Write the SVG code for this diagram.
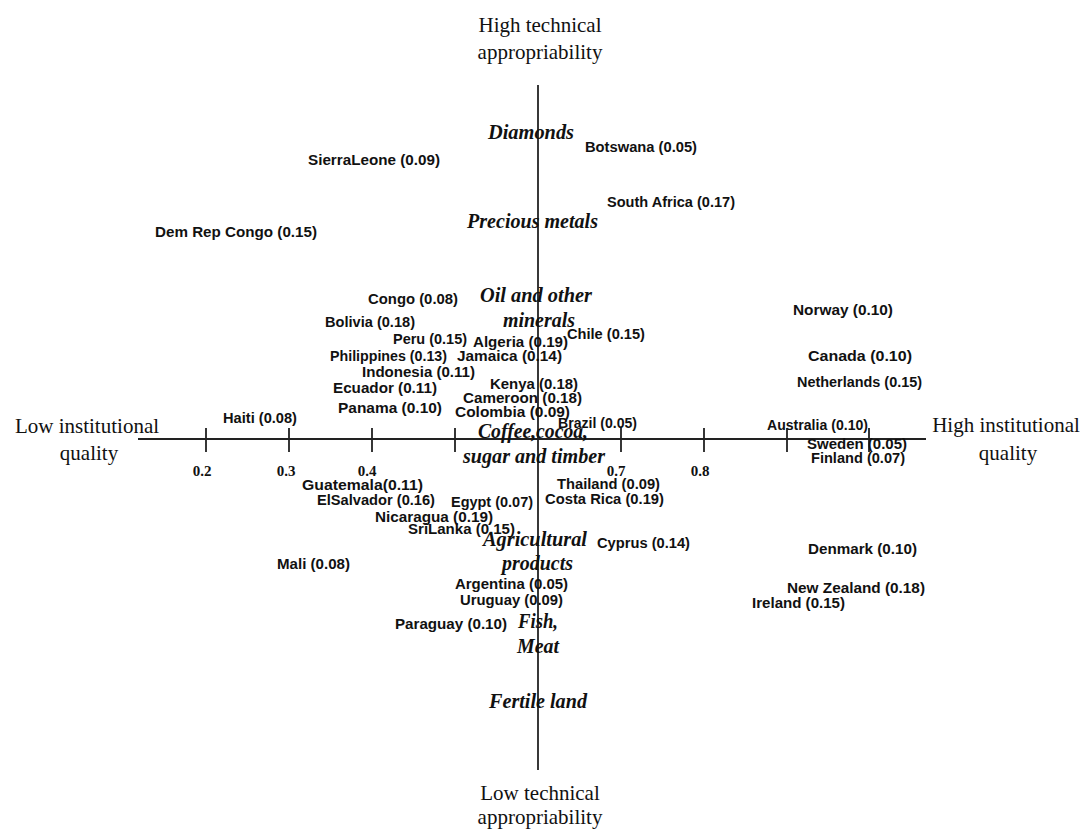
<svg xmlns="http://www.w3.org/2000/svg" width="1086" height="831" viewBox="0 0 1086 831">
<style>
.ax{font-family:"Liberation Serif","Times New Roman",serif;font-size:21px;fill:#111;text-anchor:middle}
.tk{font-family:"Liberation Serif","Times New Roman",serif;font-size:15px;font-weight:bold;fill:#111;text-anchor:middle}
.cm{font-family:"Liberation Serif","Times New Roman",serif;font-size:20px;font-weight:bold;font-style:italic;fill:#111}
.c{font-family:"Liberation Sans",Arial,sans-serif;font-size:14px;font-weight:bold;fill:#111}
.ln{stroke:#222;stroke-width:1.8;fill:none}
</style>
<rect width="1086" height="831" fill="#fff"/>
<g id="axes" class="ln">
<line x1="538" y1="85" x2="538" y2="770"/>
<line x1="138" y1="439" x2="926" y2="439"/>
<path d="M206 428V452M289 428V452M372 428V452M455 428V452M621 428V452M704 428V452M787 428V452M869 428V452"/>
</g>
<g id="axis-labels">
<text class="ax" x="540" y="32">High technical</text>
<text class="ax" x="540" y="59">appropriability</text>
<text class="ax" x="540" y="800">Low technical</text>
<text class="ax" x="540" y="824">appropriability</text>
<text class="ax" x="87" y="433">Low institutional</text>
<text class="ax" x="89" y="460">quality</text>
<text class="ax" x="1006" y="432">High institutional</text>
<text class="ax" x="1008" y="460">quality</text>
</g>
<g id="ticks">
<text class="tk" x="202" y="476">0.2</text>
<text class="tk" x="286" y="476">0.3</text>
<text class="tk" x="367" y="476">0.4</text>
<text class="tk" x="616" y="476">0.7</text>
<text class="tk" x="700" y="476">0.8</text>
</g>
<g id="commodities">
<text class="cm" x="488" y="139" textLength="86" lengthAdjust="spacingAndGlyphs">Diamonds</text>
<text class="cm" x="467" y="228" textLength="131" lengthAdjust="spacingAndGlyphs">Precious metals</text>
<text class="cm" x="480" y="302" textLength="112" lengthAdjust="spacingAndGlyphs">Oil and other</text>
<text class="cm" x="503" y="327" textLength="72" lengthAdjust="spacingAndGlyphs">minerals</text>
<text class="cm" x="478" y="438" textLength="110" lengthAdjust="spacingAndGlyphs">Coffee,cocoa,</text>
<text class="cm" x="463" y="463" textLength="142" lengthAdjust="spacingAndGlyphs">sugar and timber</text>
<text class="cm" x="483" y="546" textLength="104" lengthAdjust="spacingAndGlyphs">Agricultural</text>
<text class="cm" x="502" y="570" textLength="71" lengthAdjust="spacingAndGlyphs">products</text>
<text class="cm" x="518" y="628" textLength="40" lengthAdjust="spacingAndGlyphs">Fish,</text>
<text class="cm" x="517" y="653" textLength="42" lengthAdjust="spacingAndGlyphs">Meat</text>
<text class="cm" x="489" y="708" textLength="98" lengthAdjust="spacingAndGlyphs">Fertile land</text>
</g>
<g id="countries">
<text class="c" x="308" y="165" textLength="132" lengthAdjust="spacingAndGlyphs">SierraLeone (0.09)</text>
<text class="c" x="585" y="152" textLength="112" lengthAdjust="spacingAndGlyphs">Botswana (0.05)</text>
<text class="c" x="607" y="207" textLength="128" lengthAdjust="spacingAndGlyphs">South Africa (0.17)</text>
<text class="c" x="155" y="237" textLength="162" lengthAdjust="spacingAndGlyphs">Dem Rep Congo (0.15)</text>
<text class="c" x="368" y="304" textLength="90" lengthAdjust="spacingAndGlyphs">Congo (0.08)</text>
<text class="c" x="325" y="327" textLength="90" lengthAdjust="spacingAndGlyphs">Bolivia (0.18)</text>
<text class="c" x="393" y="344" textLength="74" lengthAdjust="spacingAndGlyphs">Peru (0.15)</text>
<text class="c" x="473" y="347" textLength="95" lengthAdjust="spacingAndGlyphs">Algeria (0.19)</text>
<text class="c" x="567" y="339" textLength="78" lengthAdjust="spacingAndGlyphs">Chile (0.15)</text>
<text class="c" x="330" y="361" textLength="117" lengthAdjust="spacingAndGlyphs">Philippines (0.13)</text>
<text class="c" x="457" y="361" textLength="105" lengthAdjust="spacingAndGlyphs">Jamaica (0.14)</text>
<text class="c" x="362" y="377" textLength="113" lengthAdjust="spacingAndGlyphs">Indonesia (0.11)</text>
<text class="c" x="333" y="393" textLength="104" lengthAdjust="spacingAndGlyphs">Ecuador (0.11)</text>
<text class="c" x="490" y="389" textLength="88" lengthAdjust="spacingAndGlyphs">Kenya (0.18)</text>
<text class="c" x="463" y="403" textLength="119" lengthAdjust="spacingAndGlyphs">Cameroon (0.18)</text>
<text class="c" x="338" y="413" textLength="104" lengthAdjust="spacingAndGlyphs">Panama (0.10)</text>
<text class="c" x="455" y="417" textLength="115" lengthAdjust="spacingAndGlyphs">Colombia (0.09)</text>
<text class="c" x="223" y="423" textLength="74" lengthAdjust="spacingAndGlyphs">Haiti (0.08)</text>
<text class="c" x="558" y="428" textLength="79" lengthAdjust="spacingAndGlyphs">Brazil (0.05)</text>
<text class="c" x="793" y="315" textLength="100" lengthAdjust="spacingAndGlyphs">Norway (0.10)</text>
<text class="c" x="808" y="361" textLength="104" lengthAdjust="spacingAndGlyphs">Canada (0.10)</text>
<text class="c" x="797" y="387" textLength="125" lengthAdjust="spacingAndGlyphs">Netherlands (0.15)</text>
<text class="c" x="767" y="430" textLength="101" lengthAdjust="spacingAndGlyphs">Australia (0.10)</text>
<text class="c" x="807" y="449" textLength="100" lengthAdjust="spacingAndGlyphs">Sweden (0.05)</text>
<text class="c" x="811" y="463" textLength="94" lengthAdjust="spacingAndGlyphs">Finland (0.07)</text>
<text class="c" x="302" y="490" textLength="121" lengthAdjust="spacingAndGlyphs">Guatemala(0.11)</text>
<text class="c" x="317" y="505" textLength="118" lengthAdjust="spacingAndGlyphs">ElSalvador (0.16)</text>
<text class="c" x="451" y="507" textLength="82" lengthAdjust="spacingAndGlyphs">Egypt (0.07)</text>
<text class="c" x="557" y="489" textLength="103" lengthAdjust="spacingAndGlyphs">Thailand (0.09)</text>
<text class="c" x="545" y="504" textLength="119" lengthAdjust="spacingAndGlyphs">Costa Rica (0.19)</text>
<text class="c" x="375" y="522" textLength="118" lengthAdjust="spacingAndGlyphs">Nicaragua (0.19)</text>
<text class="c" x="408" y="534" textLength="107" lengthAdjust="spacingAndGlyphs">SriLanka (0.15)</text>
<text class="c" x="597" y="548" textLength="93" lengthAdjust="spacingAndGlyphs">Cyprus (0.14)</text>
<text class="c" x="277" y="569" textLength="73" lengthAdjust="spacingAndGlyphs">Mali (0.08)</text>
<text class="c" x="808" y="554" textLength="109" lengthAdjust="spacingAndGlyphs">Denmark (0.10)</text>
<text class="c" x="455" y="589" textLength="113" lengthAdjust="spacingAndGlyphs">Argentina (0.05)</text>
<text class="c" x="460" y="605" textLength="103" lengthAdjust="spacingAndGlyphs">Uruguay (0.09)</text>
<text class="c" x="787" y="593" textLength="138" lengthAdjust="spacingAndGlyphs">New Zealand (0.18)</text>
<text class="c" x="752" y="608" textLength="93" lengthAdjust="spacingAndGlyphs">Ireland (0.15)</text>
<text class="c" x="395" y="629" textLength="112" lengthAdjust="spacingAndGlyphs">Paraguay (0.10)</text>
</g>
</svg>
